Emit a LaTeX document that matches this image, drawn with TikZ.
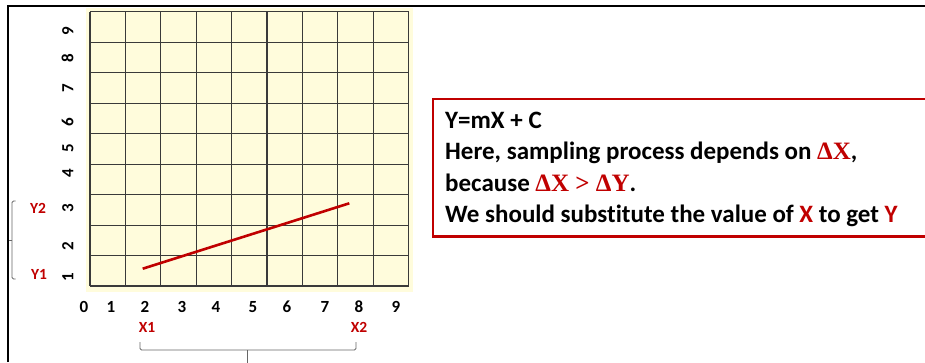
\documentclass[tikz,border=0pt]{standalone}
\usepackage{fontspec}
\setmainfont[Ligatures={NoCommon}]{Carlito}
\newfontfamily\deltafont{Liberation Serif}
\definecolor{boxred}{HTML}{C00000}
\definecolor{gridbg}{HTML}{FFFCDC}
\definecolor{gridline}{HTML}{3A3A3A}
\begin{document}
\begin{tikzpicture}[x=1pt,y=-1pt,
  ylab/.style={font=\fontsize{17}{17}\selectfont\bfseries, rotate=90, inner sep=0pt, text height=10.5pt, text depth=0pt},
  xlab/.style={font=\fontsize{17}{17}\selectfont\bfseries, inner sep=0pt, text height=10.5pt, text depth=0pt},
  redlab/.style={font=\fontsize{15.5}{15.5}\selectfont\bfseries, text=boxred, inner sep=0pt, text height=9.8pt, text depth=0pt},
  boxline/.style={font=\fontsize{25}{25}\selectfont\bfseries, anchor=base west, inner sep=0pt},
  bracestyle/.style={draw=black!60, line width=0.8pt, rounded corners=1.5pt}
]
\useasboundingbox (0,0) rectangle (925,362);
% outer frame
\draw[line width=1.5pt, black] (8,362) -- (8,6) -- (930,6);
% grid background
\fill[gridbg] (86,8.3) rectangle (413,292);
\foreach \i in {0,...,9} {
  \draw[gridline, line width=1.1pt] ({90+\i*35.4},11.7) -- ({90+\i*35.4},286);
  \draw[gridline, line width=1.1pt] (90,{11.7+\i*30.48}) -- (408.6,{11.7+\i*30.48});
}
% red line
\coordinate (p1) at (142.7,268.7);
\coordinate (p2) at (349.3,203.3);
\draw[boxred, line width=2.6pt] (p1) -- (p2);
% y labels
\foreach \n/\yy in {9/31,8/58,7/88,6/122,5/148,4/173,3/208,2/246,1/277} {
  \node[ylab] (y\n) at (68,\yy) {\n};
}
% x labels
\foreach \n/\xx in {0/84,1/111,2/145,3/182,4/216,5/253,6/287,7/325,8/359,9/396} {
  \node[xlab] (x\n) at (\xx,307) {\n};
}
\node[redlab] (X1) at (147,328) {X1};
\node[redlab] (X2) at (359,328) {X2};
\node[redlab] (Y1) at (39,275) {Y1};
\node[redlab] (Y2) at (38,209) {Y2};
% bottom brace
\coordinate (bl) at (140,342);
\coordinate (br) at (356,342);
\coordinate (bm) at (247,350);
\coordinate (bt) at (247,363);
\draw[bracestyle] (bl) -- (140,350) -- (356,350) -- (br);
\draw[bracestyle] (bm) -- (bt);
% left brace
\coordinate (lt) at (15.5,201);
\coordinate (lb) at (15.5,279);
\coordinate (lm) at (12,240);
\coordinate (lc) at (8.5,240);
\draw[bracestyle] (lt) -- (12,201) -- (12,279) -- (lb);
\draw[bracestyle] (lm) -- (lc);
% text box
\draw[boxred, line width=2.6pt] (433,99) rectangle (935,236.7);
\node[boxline] (t1) at (445,128) {Y=mX + C};
\node[boxline] (t2) at (445,159) {Here, sampling process depends on \textcolor{boxred}{\deltafont\bfseries ΔX},};
\node[boxline] (t3) at (445,191) {because \textcolor{boxred}{\deltafont\bfseries ΔX \textgreater{} ΔY}.};
\node[boxline] (t4) at (445,222.7) {We should substitute the value of \textcolor{boxred}{X} to get \textcolor{boxred}{Y}};
\end{tikzpicture}
\end{document}
